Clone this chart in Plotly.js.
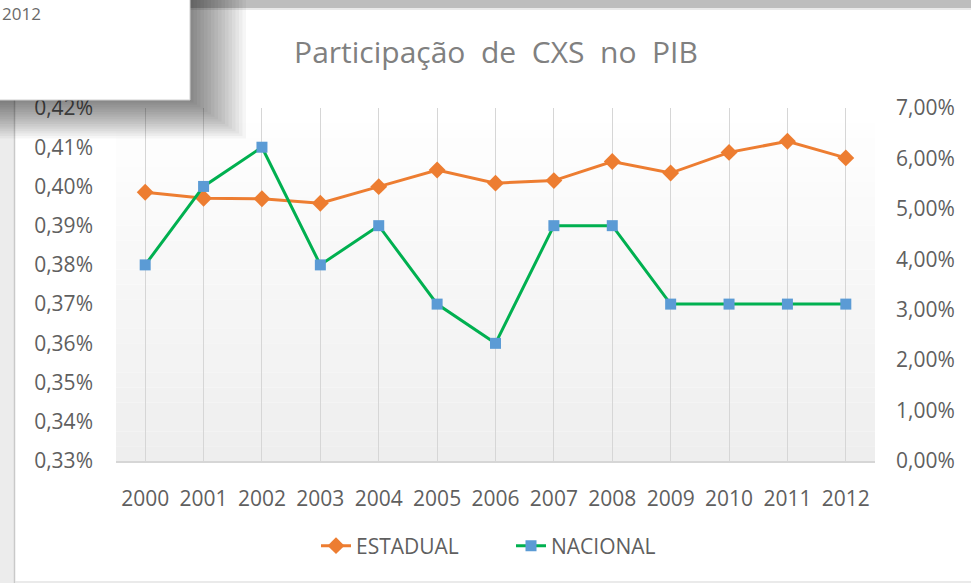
<!DOCTYPE html>
<html>
<head>
<meta charset="utf-8">
<script src="https://cdn.plot.ly/plotly-3.0.1.min.js"></script>
<style>
html,body{margin:0;padding:0;background:#fff;}
#chart{width:971px;height:583px;}
</style>
</head>
<body>
<div id="chart"></div>
<script>
// ---- data ----
const years = ['2000','2001','2002','2003','2004','2005','2006','2007','2008','2009','2010','2011','2012'];
const estadual = [0.0533,0.0521,0.0520,0.0511,0.0544,0.0577,0.0551,0.0556,0.0594,0.0571,0.0612,0.0634,0.0601];
const nacional = [0.0038,0.0040,0.0041,0.0038,0.0039,0.0037,0.0036,0.0039,0.0039,0.0037,0.0037,0.0037,0.0037];
const seriesNames = ['ESTADUAL','NACIONAL'];
const chartTitle = 'Participação\u00A0 de\u00A0 CXS\u00A0 no\u00A0 PIB';
const popupText = '2012';

// ---- layout geometry ----
const W = 971, H = 583;
const mL = 116, mR = 96, mT = 108, mB = 122;
const pw = W - mL - mR, ph = H - mT - mB;
const X = px => (px - mL) / pw;
const Y = py => (H - mB - py) / ph;

const font = '"Open Sans", "Liberation Sans", sans-serif';
const tickColor = '#5f5f5f';

const shapes = [];
// plot-area gradient (white to light grey)
const nb = 24;
for (let i = 0; i < nb; i++) {
  const v = Math.round(255 - 17 * (1 - (i + 0.5) / nb));
  shapes.push({type:'rect', xref:'paper', yref:'paper', x0:0, x1:1,
    y0:i/nb, y1:(i+1)/nb, fillcolor:`rgb(${v},${v},${v})`, line:{width:0}, layer:'below'});
}
// left window edge strip and bottom edge
shapes.push({type:'rect', xref:'paper', yref:'paper', x0:X(0), x1:X(14), y0:Y(583), y1:Y(0),
  fillcolor:'#ececec', line:{width:0}, layer:'below'});
shapes.push({type:'line', xref:'paper', yref:'paper', x0:X(14.5), x1:X(14.5), y0:Y(583), y1:Y(0),
  line:{color:'#c9c9c9', width:1.5}, layer:'below'});
shapes.push({type:'line', xref:'paper', yref:'paper', x0:X(15), x1:X(971), y0:Y(582), y1:Y(582),
  line:{color:'#e3e3e3', width:1.5}, layer:'below'});
// top grey band
shapes.push({type:'rect', xref:'paper', yref:'paper', x0:X(0), x1:X(971), y0:Y(8), y1:Y(0),
  fillcolor:'#bdbdbd', line:{width:0}, layer:'above'});
shapes.push({type:'line', xref:'paper', yref:'paper', x0:X(0), x1:X(971), y0:Y(9), y1:Y(9),
  line:{color:'#e2e2e2', width:1.5}, layer:'above'});
// popup shadow (soft, many thin steps)
for (let k = 16; k >= 1; k--) {
  shapes.push({type:'rect', xref:'paper', yref:'paper', x0:X(0), x1:X(190 + k*3.5), y0:Y(100 + k*2.4), y1:Y(0),
    fillcolor:'rgba(0,0,0,0.034)', line:{width:0}, layer:'above'});
}
// popup box
shapes.push({type:'rect', xref:'paper', yref:'paper', x0:X(-2), x1:X(190), y0:Y(100), y1:Y(-2),
  fillcolor:'#ffffff', line:{color:'#cfcfcf', width:1}, layer:'above'});

const traces = [
  {x: years, y: estadual, name: seriesNames[0], type:'scatter', mode:'lines+markers', yaxis:'y',
   line:{color:'#ed7d31', width:3}, marker:{symbol:'diamond', size:13, color:'#ed7d31'}},
  {x: years, y: nacional, name: seriesNames[1], type:'scatter', mode:'lines+markers', yaxis:'y2',
   line:{color:'#00b050', width:3}, marker:{symbol:'square', size:11, color:'#5b9bd5'}}
];

const layout = {
  width: W, height: H,
  margin: {l:mL, r:mR, t:mT, b:mB, pad:0},
  paper_bgcolor:'#ffffff', plot_bgcolor:'rgba(0,0,0,0)',
  separators: ',.',
  font: {family: font, color: tickColor, size: 21},
  title: {text: chartTitle, x: X(496), xref:'paper', xanchor:'center', y: 1 - 52/H, yanchor:'middle',
    font:{family: font, size: 30, color:'#808080'}},
  showlegend: true,
  legend: {orientation:'h', x: X(511), xanchor:'center', y: Y(546), yanchor:'middle',
    entrywidth: 150, entrywidthmode:'pixels',
    font:{family: font, size: 21, color: tickColor}, traceorder:'normal', bgcolor:'rgba(0,0,0,0)'},
  xaxis: {type:'category', range:[-0.5, years.length - 0.5], autorange:false,
    showgrid:true, gridcolor:'#d6d6d6', gridwidth:1,
    showline:true, linecolor:'#d6d6d6', linewidth:1.5, ticks:'', zeroline:false,
    ticklabelstandoff: 18, tickfont:{family: font, size: 21, color: tickColor}, fixedrange:true},
  yaxis: {side:'right', range:[0, 0.07], dtick:0.01, tickformat:'.2%', showgrid:false, zeroline:false,
    ticks:'', ticklabelstandoff: 20, tickfont:{family: font, size: 21, color: tickColor}},
  yaxis2: {overlaying:'y', side:'left', range:[0.0033, 0.0042], dtick:0.0001, tickformat:'.2%',
    showgrid:false, zeroline:false, ticks:'', ticklabelstandoff: 22,
    tickfont:{family: font, size: 21, color: tickColor}},
  shapes: shapes,
  annotations: [
    {text: popupText, xref:'paper', yref:'paper', x: X(0), y: Y(14), xanchor:'left', yanchor:'middle',
     showarrow:false, font:{family: font, size: 17, color:'#6a6a6a'}}
  ]
};

Plotly.newPlot('chart', traces, layout, {displayModeBar:false, staticPlot:true});
</script>
</body>
</html>
